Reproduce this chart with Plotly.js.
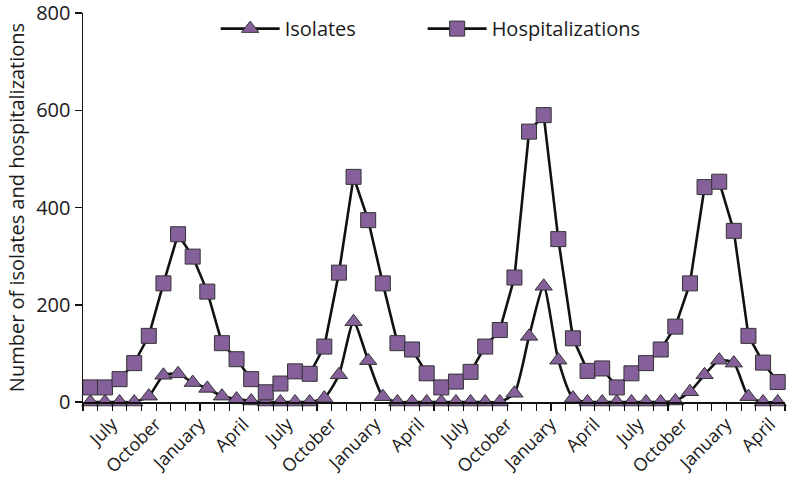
<!DOCTYPE html>
<html>
<head>
<meta charset="utf-8">
<script src="https://cdn.plot.ly/plotly-3.0.1.min.js"></script>
<style>html,body{margin:0;padding:0;background:#fff;}#chart{width:788px;height:481px;}</style>
</head>
<body>
<div id="chart"></div>
<script>
// Monthly points, 48 of them; labelled months shown on the axis
const months = [
  "May","June","July","August","September","October","November","December","January","February","March","April",
  "May","June","July","August","September","October","November","December","January","February","March","April",
  "May","June","July","August","September","October","November","December","January","February","March","April",
  "May","June","July","August","September","October","November","December","January","February","March","April"
];
const labelledMonths = ["July","October","January","April"];

const isolates = [
  0,0,0,0,12,55,58,40,28,12,6,2,
  0,0,0,0,8,56,165,85,11,0,0,0,
  0,0,0,0,0,18,135,238,86,8,0,0,
  0,0,0,0,2,21,56,86,80,11,0,0
];
const hospitalizations = [
  30,30,47,80,136,244,345,299,227,121,88,47,
  20,38,63,58,114,266,463,374,244,121,108,59,
  30,42,62,114,148,256,556,590,335,131,64,69,
  30,59,80,108,155,244,442,453,352,136,81,41
];
const yTicks = [0, 200, 400, 600, 800];

const xIdx = months.map((m, i) => i);
// label positions: the first July of the series, then every third month
const firstJuly = months.indexOf("July") - 1;
const tickVals = xIdx.filter(i => i >= firstJuly && (i - firstJuly) % 3 === 0 && i <= 47);
const tickText = tickVals.map((v, k) => labelledMonths[k % 4]);

const purple = "#85609b";
const font = "Open Sans, Noto Sans, sans-serif";

const traces = [
  {
    x: xIdx, y: isolates, name: "Isolates", type: "scatter", mode: "lines+markers",
    line: {color: "#111", width: 2.6, shape: "spline", smoothing: 0.6},
    marker: {symbol: "triangle-up", size: 15, color: purple, line: {color: "#333", width: 1}},
    cliponaxis: false, legend: "legend"
  },
  {
    x: xIdx, y: hospitalizations, name: "Hospitalizations", type: "scatter", mode: "lines+markers",
    line: {color: "#111", width: 2.6},
    marker: {symbol: "square", size: 15, color: purple, line: {color: "#333", width: 1}},
    cliponaxis: false, legend: "legend2"
  }
];

const legendBase = {
  orientation: "h", xanchor: "left", y: 1.01, yanchor: "top",
  font: {family: font, size: 20, color: "#1a1a1a"},
  bgcolor: "rgba(0,0,0,0)", itemwidth: 59
};

const layout = {
  width: 788, height: 481,
  margin: {l: 83, r: 3, t: 13, b: 79},
  paper_bgcolor: "#fff", plot_bgcolor: "#fff",
  font: {family: font, color: "#1a1a1a", size: 18},
  showlegend: true,
  legend: Object.assign({}, legendBase, {x: 0.189}),
  legend2: Object.assign({}, legendBase, {x: 0.4838}),
  xaxis: {
    range: [-0.5, 47.5], showgrid: false, zeroline: false,
    showline: true, linecolor: "#111", linewidth: 1.5,
    tickmode: "array", tickvals: tickVals, ticktext: tickText,
    ticks: "", tickangle: -45, ticklabelshift: 7, ticklabelstandoff: 3,
    ticklabeloverflow: "allow",
    tickfont: {family: font, size: 18, color: "#1a1a1a"},
    minor: {ticks: "outside", tick0: 0.5, dtick: 1, ticklen: 7, tickwidth: 1.2, tickcolor: "#111", showgrid: false}
  },
  yaxis: {
    range: [0, 800], showgrid: false, zeroline: false,
    showline: true, linecolor: "#111", linewidth: 1.5,
    tickmode: "array", tickvals: yTicks,
    ticks: "outside", ticklen: 7, tickwidth: 1.5, tickcolor: "#111",
    ticklabeloverflow: "allow",
    tickfont: {family: font, size: 20, color: "#1a1a1a"},
    title: {text: "Number of isolates and hospitalizations", font: {family: font, size: 20, color: "#1a1a1a"}, standoff: 6}
  }
};

Plotly.newPlot("chart", traces, layout, {displayModeBar: false, staticPlot: true});
</script>
</body>
</html>
